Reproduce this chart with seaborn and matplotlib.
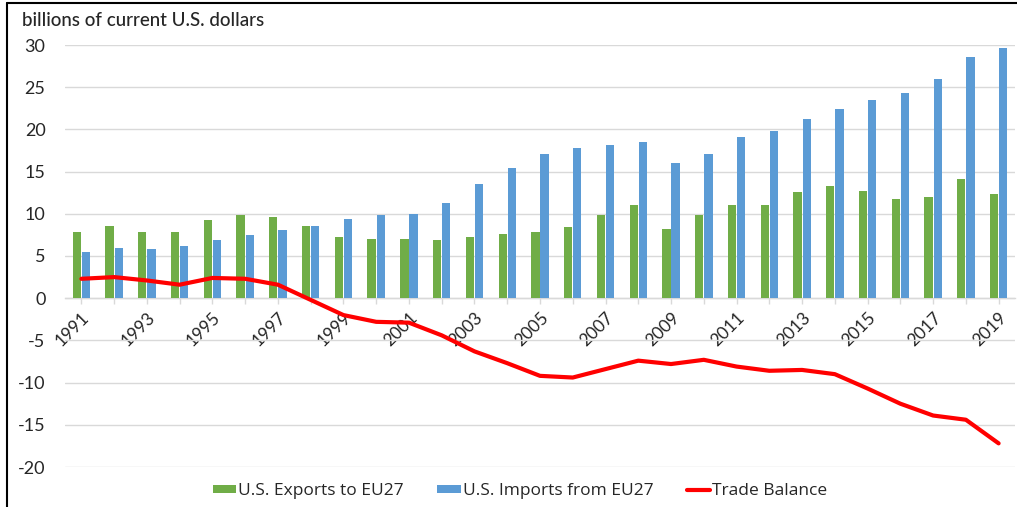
import numpy as np
import pandas as pd
import matplotlib
matplotlib.use("Agg")
import matplotlib.pyplot as plt
from matplotlib.lines import Line2D
from matplotlib.patches import Patch
import seaborn as sns

# ---- data (billions of current U.S. dollars) ----
years = ["1991", "1992", "1993", "1994", "1995", "1996", "1997", "1998", "1999", "2000",
         "2001", "2002", "2003", "2004", "2005", "2006", "2007", "2008", "2009", "2010",
         "2011", "2012", "2013", "2014", "2015", "2016", "2017", "2018", "2019"]
exports = [7.9, 8.5, 7.9, 7.8, 9.3, 9.8, 9.6, 8.5, 7.3, 7.0,
           7.0, 6.9, 7.2, 7.6, 7.8, 8.4, 9.8, 11.1, 8.2, 9.8,
           11.0, 11.1, 12.6, 13.3, 12.7, 11.8, 12.0, 14.1, 12.4]
imports = [5.5, 6.0, 5.8, 6.2, 6.9, 7.5, 8.1, 8.6, 9.4, 9.8,
           10.0, 11.3, 13.5, 15.4, 17.1, 17.8, 18.2, 18.5, 16.0, 17.1,
           19.1, 19.8, 21.2, 22.4, 23.5, 24.3, 26.0, 28.6, 29.6]
balance = [2.3, 2.5, 2.1, 1.6, 2.4, 2.3, 1.6, -0.2, -2.0, -2.8,
           -2.9, -4.4, -6.3, -7.7, -9.2, -9.4, -8.4, -7.4, -7.8, -7.3,
           -8.1, -8.6, -8.5, -9.0, -10.7, -12.5, -13.9, -14.4, -17.2]
series_names = ["U.S. Exports to EU27", "U.S. Imports from EU27", "Trade Balance"]
y_ticks = [-20, -15, -10, -5, 0, 5, 10, 15, 20, 25, 30]
title = "billions of current U.S. dollars"

GREEN = "#70AD47"
BLUE = "#5B9BD5"
RED = "#FF0000"
GRID = "#D9D9D9"
TEXT = "#262626"

sns.set_style("white")
plt.rcParams["font.family"] = ["Open Sans", "DejaVu Sans"]

long = pd.DataFrame({
    "year": years * 2,
    "series": [series_names[0]] * len(years) + [series_names[1]] * len(years),
    "value": exports + imports,
})

fig = plt.figure(figsize=(10.17, 5.07), dpi=100)
ax = fig.add_axes([65 / 1017, 1 - 467 / 507, 950 / 1017, 422 / 507])

sns.barplot(data=long, x="year", y="value", hue="series", order=years,
            hue_order=series_names[:2], palette=[GREEN, BLUE], saturation=1,
            width=0.56, gap=0.1, legend=False, ax=ax, zorder=2,
            edgecolor="none")

sns.pointplot(x=years, y=balance, order=years, color=RED, markers="",
              linestyles="-", ax=ax, linewidth=3.0,
              solid_joinstyle="round", solid_capstyle="round", zorder=4)

ax.set_xlim(-0.5, len(years) - 0.5)
ax.set_ylim(-20, 30)
ax.set_yticks(y_ticks)
ax.set_yticklabels([str(v) for v in y_ticks], family=["Lato", "DejaVu Sans"],
                   fontsize=13, color=TEXT)
ax.set_xlabel("")
ax.set_ylabel("")

ax.yaxis.grid(True, color=GRID, linewidth=1.0, zorder=0)
ax.xaxis.grid(False)
ax.set_axisbelow(True)

for s in ["top", "right", "left"]:
    ax.spines[s].set_visible(False)
ax.spines["bottom"].set_position(("data", 0))
ax.spines["bottom"].set_color(GRID)
ax.spines["bottom"].set_linewidth(1.0)
ax.spines["bottom"].set_zorder(1)

ax.set_xticks(range(len(years)))
ax.set_xticklabels([y if i % 2 == 0 else "" for i, y in enumerate(years)],
                   rotation=45, ha="right", rotation_mode="anchor",
                   fontsize=12.5, color=TEXT, family=["Lato", "DejaVu Sans"])
ax.tick_params(axis="x", which="both", bottom=True, length=4, width=1,
               color=GRID, pad=4)
ax.tick_params(axis="y", which="both", left=False, length=0, pad=14)

fig.text(22 / 1017, 1 - 20 / 507, title, ha="left", va="center",
         fontsize=13.5, color=TEXT, family=["Lato", "DejaVu Sans"],
         fontweight="medium")

handles = [Patch(facecolor=GREEN, edgecolor="none"),
           Patch(facecolor=BLUE, edgecolor="none"),
           Line2D([0], [0], color=RED, lw=3.0)]
fig.legend(handles, series_names, loc="center",
           bbox_to_anchor=(520 / 1017, 1 - 491 / 507), ncol=3, frameon=False,
           handlelength=1.35, handleheight=0.35, handletextpad=0.1,
           columnspacing=1.95, fontsize=12.5, labelcolor=TEXT)

# frame lines (left and top edges of the chart box)
fig.add_artist(Line2D([7 / 1017, 7 / 1017], [0, 1 - 3 / 507],
                      transform=fig.transFigure, color="black", lw=1.5))
fig.add_artist(Line2D([7 / 1017, 1], [1 - 3 / 507, 1 - 3 / 507],
                      transform=fig.transFigure, color="black", lw=1.5))

fig.savefig("out.png", dpi=100)
